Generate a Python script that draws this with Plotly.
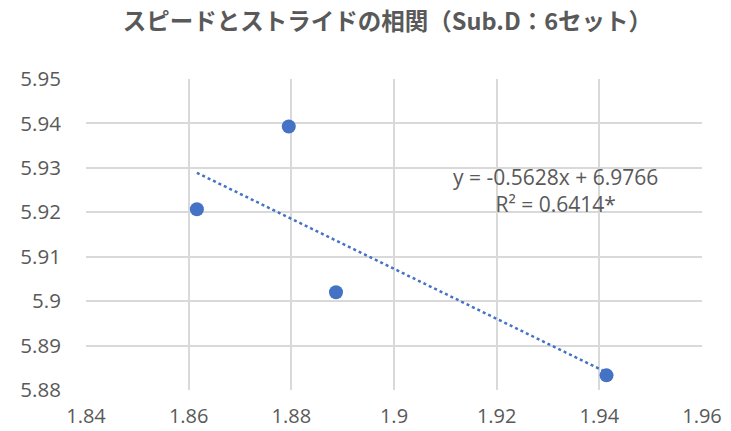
import plotly.graph_objects as go

# Speed vs stride, Sub.D
speed = [1.8616, 1.8795, 1.8887, 1.9414]
stride = [5.9207, 5.9393, 5.9020, 5.8833]

# Linear trend coefficients and fit quality
slope = -0.5628
intercept = 6.9766
r_squared = 0.6414

x_ticks = [1.84, 1.86, 1.88, 1.90, 1.92, 1.94, 1.96]
x_tick_labels = ["1.84", "1.86", "1.88", "1.9", "1.92", "1.94", "1.96"]
y_ticks = [5.88, 5.89, 5.90, 5.91, 5.92, 5.93, 5.94, 5.95]
y_tick_labels = ["5.88", "5.89", "5.9", "5.91", "5.92", "5.93", "5.94", "5.95"]

title_text = "スピードとストライドの相関（Sub.D：6セット）"

BLUE = "#4472C4"
TEXT = "#595959"
GRID = "#D9D9D9"

trend_x = [min(speed), max(speed)]
trend_y = [slope * v + intercept for v in trend_x]

fig = go.Figure()
fig.add_trace(go.Scatter(
    x=trend_x, y=trend_y, mode="lines",
    line=dict(color=BLUE, width=2.5, dash="dot"),
    hoverinfo="skip", showlegend=False,
))
fig.add_trace(go.Scatter(
    x=speed, y=stride, mode="markers",
    marker=dict(color=BLUE, size=14, line=dict(width=0)),
    showlegend=False,
))

fig.add_annotation(
    x=1.9315, y=5.925, xref="x", yref="y",
    text=f"y = {slope}x + {intercept}<br>R² = {r_squared}*",
    showarrow=False, align="center",
    font=dict(family="Open Sans, sans-serif", size=21, color=TEXT),
)

fig.update_layout(
    width=731, height=431,
    margin=dict(l=85.5, r=29, t=79, b=41),
    paper_bgcolor="white", plot_bgcolor="white",
    title=dict(
        text=title_text, x=0.53, xanchor="center", y=0.949, yanchor="middle",
        font=dict(family="Noto Sans CJK JP", size=23.5, color=TEXT, weight="bold"),
    ),
)
fig.update_xaxes(
    range=[1.84, 1.96], tickvals=x_ticks, ticktext=x_tick_labels,
    showgrid=True, gridcolor=GRID, gridwidth=1.5,
    zeroline=False, showline=False, automargin=False,
    ticks="outside", ticklen=8, tickcolor="rgba(0,0,0,0)",
    tickfont=dict(family="Open Sans, sans-serif", size=20, color=TEXT),
)
fig.update_yaxes(
    range=[5.88, 5.95], tickvals=y_ticks, ticktext=y_tick_labels,
    showgrid=True, gridcolor=GRID, gridwidth=1.5,
    zeroline=False, showline=False, automargin=False,
    ticks="outside", ticklen=20, tickcolor="rgba(0,0,0,0)",
    tickfont=dict(family="Open Sans, sans-serif", size=20.5, color=TEXT),
)

fig.write_html("out.html")
